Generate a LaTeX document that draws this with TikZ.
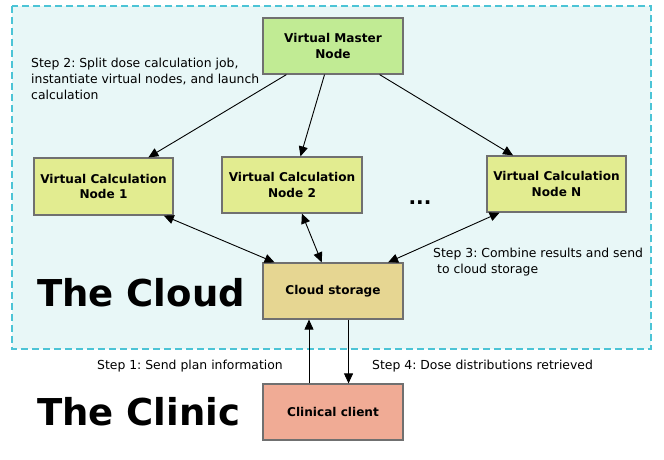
\documentclass[tikz,border=0pt]{standalone}
\usepackage{fontspec}
\setmainfont{DejaVu Sans}
\usetikzlibrary{arrows.meta,calc}
\definecolor{cloudbg}{HTML}{E8F7F7}
\definecolor{cloudline}{HTML}{4CC4D6}
\definecolor{mastercol}{HTML}{C1EB94}
\definecolor{calccol}{HTML}{E2EC90}
\definecolor{storecol}{HTML}{E6D692}
\definecolor{clientcol}{HTML}{F0AB95}
\definecolor{boxline}{HTML}{707070}
\frenchspacing
\tikzset{
  box/.style={draw=boxline, line width=1.2pt, minimum width=140pt, minimum height=56pt,
    inner sep=0pt, align=center, font=\fontsize{12.1}{15.5}\selectfont\bfseries},
  lbl/.style={font=\fontsize{12.4}{16}\selectfont, inner sep=0pt, align=left},
  big/.style={font=\fontsize{37}{40}\selectfont\bfseries, inner sep=0pt},
  arr/.style={line width=0.9pt, -{Triangle[length=10pt,width=9pt]}},
  darr/.style={line width=0.9pt, {Triangle[length=10pt,width=9pt]}-{Triangle[length=10pt,width=9pt]}}
}
\begin{document}
\begin{tikzpicture}[x=1pt,y=-1pt]
\useasboundingbox (0,0) rectangle (664,460);
\draw[cloudline, fill=cloudbg, dashed, dash pattern=on 7pt off 4pt, line width=1.1pt] (12,6) rectangle (651,349);

\node[box, fill=mastercol] (master) at (333,46) {Virtual Master\\Node};
\node[box, fill=calccol, minimum width=139pt, minimum height=57pt] (n1) at (103.5,186.5) {Virtual Calculation\\Node 1};
\node[box, fill=calccol] (n2) at (292,185) {Virtual Calculation\\Node 2};
\node[box, fill=calccol, minimum width=139pt] (nN) at (556.5,184) {Virtual Calculation\\Node N};
\node[box, fill=storecol] (store) at (333,291) {Cloud storage};
\node[box, fill=clientcol] (client) at (333,412) {Clinical client};

\node[font=\fontsize{20}{20}\selectfont\bfseries, inner sep=0pt] (dots) at (420,203) {...};

\node[big, anchor=west] (cloudtxt) at (37,293) {The Cloud};
\node[big, anchor=west] (clinictxt) at (37,412) {The Clinic};

\node[lbl, anchor=north west] (s2) at (31,58) {Step 2: Split dose calculation job,\\instantiate virtual nodes, and launch\\calculation};
\node[lbl, anchor=north west] (s3) at (433,248) {Step 3: Combine results and send\\\ to cloud storage};
\node[lbl, anchor=center] (s1) at (190,366) {Step 1: Send plan information};
\node[lbl, anchor=west] (s4) at (372,366) {Step 4: Dose distributions retrieved};

\draw[arr] ($(master.south west)!0.17!(master.south east)$) -- ($(n1.north west)!0.82!(n1.north east)$);
\draw[arr] ($(master.south west)!0.44!(master.south east)$) -- ($(n2.north west)!0.56!(n2.north east)$);
\draw[arr] ($(master.south west)!0.83!(master.south east)$) -- ($(nN.north west)!0.19!(nN.north east)$);

\draw[darr] ($(n1.south west)!0.93!(n1.south east)$) -- ($(store.north west)!0.086!(store.north east)$);
\draw[darr] ($(n2.south west)!0.57!(n2.south east)$) -- ($(store.north west)!0.42!(store.north east)$);
\draw[darr] ($(nN.south west)!0.094!(nN.south east)$) -- ($(store.north west)!0.89!(store.north east)$);

\draw[arr] ($(client.north west)!0.33!(client.north east)$) -- ($(store.south west)!0.33!(store.south east)$);
\draw[arr] ($(store.south west)!0.61!(store.south east)$) -- ($(client.north west)!0.61!(client.north east)$);
\end{tikzpicture}
\end{document}
